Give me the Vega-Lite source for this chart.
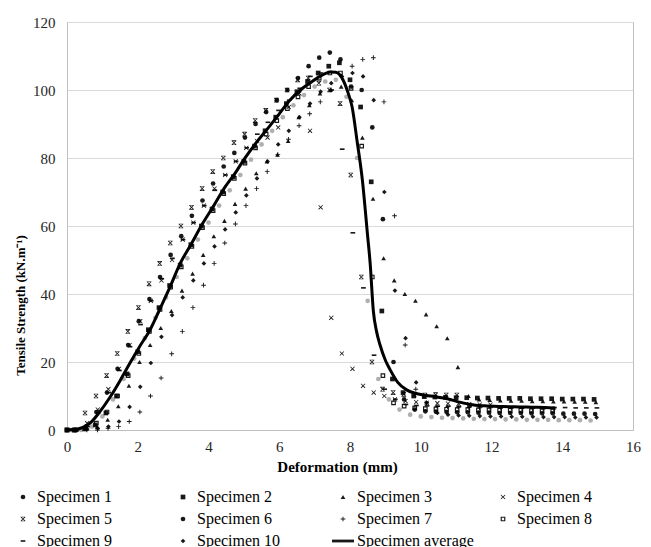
{
  "$schema": "https://vega.github.io/schema/vega-lite/v6.json",
  "width": 566,
  "height": 408,
  "autosize": {"type": "none"},
  "padding": {"left": 67, "top": 22, "right": 18, "bottom": 117},
  "background": "white",
  "config": {"view": {"stroke": "#bfbfbf", "strokeWidth": 1}, "font": "'Liberation Serif', 'Times New Roman', serif"},
  "layer": [
    {
      "data": {"values": [
        {"series":"Specimen 1","x":0.1,"y":0},{"series":"Specimen 1","x":0.4,"y":0},{"series":"Specimen 1","x":0.7,"y":1},{"series":"Specimen 1","x":1.0,"y":4},{"series":"Specimen 1","x":1.3,"y":9},{"series":"Specimen 1","x":1.6,"y":15},{"series":"Specimen 1","x":1.9,"y":21},{"series":"Specimen 1","x":2.2,"y":27},{"series":"Specimen 1","x":2.5,"y":33},{"series":"Specimen 1","x":2.8,"y":39},{"series":"Specimen 1","x":3.1,"y":45},{"series":"Specimen 1","x":3.4,"y":50.5},{"series":"Specimen 1","x":3.7,"y":56},{"series":"Specimen 1","x":4.0,"y":61},{"series":"Specimen 1","x":4.3,"y":66},{"series":"Specimen 1","x":4.6,"y":70.5},{"series":"Specimen 1","x":4.9,"y":75},{"series":"Specimen 1","x":5.2,"y":79.5},{"series":"Specimen 1","x":5.5,"y":84},{"series":"Specimen 1","x":5.8,"y":88},{"series":"Specimen 1","x":6.1,"y":92},{"series":"Specimen 1","x":6.4,"y":95.5},{"series":"Specimen 1","x":6.7,"y":98.5},{"series":"Specimen 1","x":7.0,"y":101},{"series":"Specimen 1","x":7.3,"y":102.5},{"series":"Specimen 1","x":7.6,"y":103},{"series":"Specimen 1","x":7.9,"y":98},{"series":"Specimen 1","x":8.2,"y":80},{"series":"Specimen 1","x":8.5,"y":38},{"series":"Specimen 1","x":8.8,"y":15},{"series":"Specimen 1","x":9.1,"y":9},{"series":"Specimen 1","x":9.4,"y":6},{"series":"Specimen 1","x":9.7,"y":4.5},{"series":"Specimen 1","x":10.0,"y":4},{"series":"Specimen 1","x":10.3,"y":3.8},{"series":"Specimen 1","x":10.6,"y":3.6},{"series":"Specimen 1","x":10.9,"y":3.5},{"series":"Specimen 1","x":11.2,"y":3.4},{"series":"Specimen 1","x":11.5,"y":3.3},{"series":"Specimen 1","x":11.8,"y":3.2},{"series":"Specimen 1","x":12.1,"y":3.2},{"series":"Specimen 1","x":12.4,"y":3.1},{"series":"Specimen 1","x":12.7,"y":3.1},{"series":"Specimen 1","x":13.0,"y":3.0},{"series":"Specimen 1","x":13.3,"y":3.0},{"series":"Specimen 1","x":13.6,"y":3.0},{"series":"Specimen 1","x":13.9,"y":2.9},{"series":"Specimen 1","x":14.2,"y":2.9},{"series":"Specimen 1","x":14.5,"y":2.9},{"series":"Specimen 1","x":14.8,"y":2.8},

        {"series":"Specimen 2","x":0.0,"y":0},{"series":"Specimen 2","x":0.2,"y":0},{"series":"Specimen 2","x":0.5,"y":0.3},{"series":"Specimen 2","x":0.8,"y":1.5},{"series":"Specimen 2","x":1.1,"y":5},{"series":"Specimen 2","x":1.4,"y":10},{"series":"Specimen 2","x":1.7,"y":16.5},{"series":"Specimen 2","x":2.0,"y":23},{"series":"Specimen 2","x":2.3,"y":29.5},{"series":"Specimen 2","x":2.6,"y":36},{"series":"Specimen 2","x":2.9,"y":42.5},{"series":"Specimen 2","x":3.2,"y":48.5},{"series":"Specimen 2","x":3.5,"y":54.5},{"series":"Specimen 2","x":3.8,"y":60},{"series":"Specimen 2","x":4.1,"y":65},{"series":"Specimen 2","x":4.4,"y":70},{"series":"Specimen 2","x":4.7,"y":74.5},{"series":"Specimen 2","x":5.0,"y":79},{"series":"Specimen 2","x":5.3,"y":83.5},{"series":"Specimen 2","x":5.6,"y":88},{"series":"Specimen 2","x":5.9,"y":92},{"series":"Specimen 2","x":6.2,"y":96},{"series":"Specimen 2","x":6.5,"y":99.5},{"series":"Specimen 2","x":6.8,"y":102.5},{"series":"Specimen 2","x":7.1,"y":105},{"series":"Specimen 2","x":7.4,"y":107},{"series":"Specimen 2","x":7.7,"y":108},{"series":"Specimen 2","x":8.0,"y":103},{"series":"Specimen 2","x":8.3,"y":95},{"series":"Specimen 2","x":8.6,"y":73},{"series":"Specimen 2","x":8.9,"y":35},{"series":"Specimen 2","x":9.2,"y":15},{"series":"Specimen 2","x":9.5,"y":11},{"series":"Specimen 2","x":9.8,"y":10},{"series":"Specimen 2","x":10.1,"y":9.8},{"series":"Specimen 2","x":10.4,"y":9.7},{"series":"Specimen 2","x":10.7,"y":9.6},{"series":"Specimen 2","x":11.0,"y":9.5},{"series":"Specimen 2","x":11.3,"y":9.5},{"series":"Specimen 2","x":11.6,"y":9.4},{"series":"Specimen 2","x":11.9,"y":9.4},{"series":"Specimen 2","x":12.2,"y":9.3},{"series":"Specimen 2","x":12.5,"y":9.3},{"series":"Specimen 2","x":12.8,"y":9.3},{"series":"Specimen 2","x":13.1,"y":9.2},{"series":"Specimen 2","x":13.4,"y":9.2},{"series":"Specimen 2","x":13.7,"y":9.2},{"series":"Specimen 2","x":14.0,"y":9.1},{"series":"Specimen 2","x":14.3,"y":9.1},{"series":"Specimen 2","x":14.6,"y":9.1},{"series":"Specimen 2","x":14.9,"y":9.0},

        {"series":"Specimen 3","x":0.25,"y":0},{"series":"Specimen 3","x":0.55,"y":0.5},{"series":"Specimen 3","x":0.85,"y":1},{"series":"Specimen 3","x":1.15,"y":3},{"series":"Specimen 3","x":1.45,"y":7},{"series":"Specimen 3","x":1.75,"y":13},{"series":"Specimen 3","x":2.05,"y":20},{"series":"Specimen 3","x":2.35,"y":25},{"series":"Specimen 3","x":2.65,"y":30},{"series":"Specimen 3","x":2.95,"y":35},{"series":"Specimen 3","x":3.25,"y":41},{"series":"Specimen 3","x":3.55,"y":46},{"series":"Specimen 3","x":3.85,"y":51.5},{"series":"Specimen 3","x":4.15,"y":57},{"series":"Specimen 3","x":4.45,"y":61.5},{"series":"Specimen 3","x":4.75,"y":66.5},{"series":"Specimen 3","x":5.05,"y":71},{"series":"Specimen 3","x":5.35,"y":75.5},{"series":"Specimen 3","x":5.65,"y":79},{"series":"Specimen 3","x":5.95,"y":81},{"series":"Specimen 3","x":6.25,"y":85},{"series":"Specimen 3","x":6.55,"y":92},{"series":"Specimen 3","x":6.85,"y":95.5},{"series":"Specimen 3","x":7.15,"y":99},{"series":"Specimen 3","x":7.45,"y":100},{"series":"Specimen 3","x":7.75,"y":101},{"series":"Specimen 3","x":8.05,"y":97},{"series":"Specimen 3","x":8.35,"y":86},{"series":"Specimen 3","x":8.65,"y":68},{"series":"Specimen 3","x":8.95,"y":50.5},{"series":"Specimen 3","x":9.25,"y":44},{"series":"Specimen 3","x":9.55,"y":40},{"series":"Specimen 3","x":9.85,"y":38},{"series":"Specimen 3","x":10.15,"y":34},{"series":"Specimen 3","x":10.45,"y":30.5},{"series":"Specimen 3","x":10.75,"y":27},{"series":"Specimen 3","x":11.05,"y":18.5},{"series":"Specimen 3","x":11.35,"y":10},{"series":"Specimen 3","x":11.65,"y":9},{"series":"Specimen 3","x":11.95,"y":8.8},{"series":"Specimen 3","x":12.25,"y":8.7},{"series":"Specimen 3","x":12.55,"y":8.6},{"series":"Specimen 3","x":12.85,"y":8.6},{"series":"Specimen 3","x":13.15,"y":8.5},{"series":"Specimen 3","x":13.45,"y":8.5},{"series":"Specimen 3","x":13.75,"y":8.4},{"series":"Specimen 3","x":14.05,"y":8.4},{"series":"Specimen 3","x":14.35,"y":8.3},{"series":"Specimen 3","x":14.65,"y":8.3},{"series":"Specimen 3","x":14.95,"y":8.2},

        {"series":"Specimen 4","x":0.27,"y":0},{"series":"Specimen 4","x":0.57,"y":2},{"series":"Specimen 4","x":0.87,"y":6},{"series":"Specimen 4","x":1.17,"y":12},{"series":"Specimen 4","x":1.47,"y":18},{"series":"Specimen 4","x":1.77,"y":25},{"series":"Specimen 4","x":2.07,"y":32},{"series":"Specimen 4","x":2.37,"y":38},{"series":"Specimen 4","x":2.67,"y":44},{"series":"Specimen 4","x":2.97,"y":50},{"series":"Specimen 4","x":3.27,"y":56},{"series":"Specimen 4","x":3.57,"y":61},{"series":"Specimen 4","x":3.87,"y":66},{"series":"Specimen 4","x":4.17,"y":71},{"series":"Specimen 4","x":4.47,"y":75},{"series":"Specimen 4","x":4.77,"y":79},{"series":"Specimen 4","x":5.07,"y":83},{"series":"Specimen 4","x":5.37,"y":85},{"series":"Specimen 4","x":5.67,"y":86},{"series":"Specimen 4","x":5.97,"y":89},{"series":"Specimen 4","x":6.27,"y":95},{"series":"Specimen 4","x":6.57,"y":99},{"series":"Specimen 4","x":6.87,"y":88},{"series":"Specimen 4","x":7.17,"y":65.5},{"series":"Specimen 4","x":7.47,"y":33},{"series":"Specimen 4","x":7.77,"y":22.5},{"series":"Specimen 4","x":8.07,"y":18},{"series":"Specimen 4","x":8.37,"y":13},{"series":"Specimen 4","x":8.67,"y":11},{"series":"Specimen 4","x":8.97,"y":10},{"series":"Specimen 4","x":9.27,"y":9},{"series":"Specimen 4","x":9.57,"y":8.5},{"series":"Specimen 4","x":9.87,"y":8.2},{"series":"Specimen 4","x":10.17,"y":8},{"series":"Specimen 4","x":10.47,"y":7.9},{"series":"Specimen 4","x":10.77,"y":7.8},{"series":"Specimen 4","x":11.07,"y":7.7},{"series":"Specimen 4","x":11.37,"y":7.6},{"series":"Specimen 4","x":11.67,"y":7.5},{"series":"Specimen 4","x":11.97,"y":7.5},

        {"series":"Specimen 5","x":0.0,"y":0},{"series":"Specimen 5","x":0.21,"y":0},{"series":"Specimen 5","x":0.51,"y":5},{"series":"Specimen 5","x":0.82,"y":10},{"series":"Specimen 5","x":1.12,"y":16},{"series":"Specimen 5","x":1.42,"y":22.5},{"series":"Specimen 5","x":1.72,"y":29},{"series":"Specimen 5","x":2.02,"y":36},{"series":"Specimen 5","x":2.32,"y":43},{"series":"Specimen 5","x":2.62,"y":49},{"series":"Specimen 5","x":2.92,"y":55},{"series":"Specimen 5","x":3.22,"y":60},{"series":"Specimen 5","x":3.52,"y":65.5},{"series":"Specimen 5","x":3.82,"y":71},{"series":"Specimen 5","x":4.12,"y":76},{"series":"Specimen 5","x":4.42,"y":80},{"series":"Specimen 5","x":4.72,"y":84.5},{"series":"Specimen 5","x":5.02,"y":87},{"series":"Specimen 5","x":5.32,"y":91},{"series":"Specimen 5","x":5.62,"y":94},{"series":"Specimen 5","x":5.92,"y":97},{"series":"Specimen 5","x":6.22,"y":100},{"series":"Specimen 5","x":6.52,"y":103},{"series":"Specimen 5","x":6.82,"y":103.5},{"series":"Specimen 5","x":7.12,"y":102},{"series":"Specimen 5","x":7.42,"y":100},{"series":"Specimen 5","x":7.72,"y":96},{"series":"Specimen 5","x":8.02,"y":75},{"series":"Specimen 5","x":8.32,"y":45},{"series":"Specimen 5","x":8.62,"y":20},{"series":"Specimen 5","x":8.92,"y":12},{"series":"Specimen 5","x":9.22,"y":11},{"series":"Specimen 5","x":9.52,"y":10.5},{"series":"Specimen 5","x":9.82,"y":10.3},{"series":"Specimen 5","x":10.12,"y":10.3},{"series":"Specimen 5","x":10.42,"y":10.4},{"series":"Specimen 5","x":10.72,"y":10.3},{"series":"Specimen 5","x":11.02,"y":10.3},

        {"series":"Specimen 6","x":0.0,"y":0},{"series":"Specimen 6","x":0.23,"y":0},{"series":"Specimen 6","x":0.53,"y":1},{"series":"Specimen 6","x":0.83,"y":5.3},{"series":"Specimen 6","x":1.13,"y":11},{"series":"Specimen 6","x":1.43,"y":18},{"series":"Specimen 6","x":1.73,"y":25},{"series":"Specimen 6","x":2.03,"y":32},{"series":"Specimen 6","x":2.33,"y":38.5},{"series":"Specimen 6","x":2.63,"y":45},{"series":"Specimen 6","x":2.93,"y":51.5},{"series":"Specimen 6","x":3.23,"y":57},{"series":"Specimen 6","x":3.53,"y":63},{"series":"Specimen 6","x":3.83,"y":67.5},{"series":"Specimen 6","x":4.13,"y":72.5},{"series":"Specimen 6","x":4.43,"y":77.5},{"series":"Specimen 6","x":4.73,"y":81.5},{"series":"Specimen 6","x":5.03,"y":86},{"series":"Specimen 6","x":5.33,"y":90},{"series":"Specimen 6","x":5.63,"y":93.5},{"series":"Specimen 6","x":5.93,"y":97},{"series":"Specimen 6","x":6.23,"y":100},{"series":"Specimen 6","x":6.53,"y":103.5},{"series":"Specimen 6","x":6.83,"y":107},{"series":"Specimen 6","x":7.13,"y":109.5},{"series":"Specimen 6","x":7.43,"y":111},{"series":"Specimen 6","x":7.73,"y":109},{"series":"Specimen 6","x":8.03,"y":101},{"series":"Specimen 6","x":8.33,"y":100},{"series":"Specimen 6","x":8.63,"y":89},{"series":"Specimen 6","x":8.93,"y":62},{"series":"Specimen 6","x":9.23,"y":20},{"series":"Specimen 6","x":9.53,"y":9},{"series":"Specimen 6","x":9.83,"y":6},{"series":"Specimen 6","x":10.13,"y":5.5},{"series":"Specimen 6","x":10.43,"y":5.4},{"series":"Specimen 6","x":10.73,"y":5.3},{"series":"Specimen 6","x":11.03,"y":5.2},{"series":"Specimen 6","x":11.33,"y":5.2},{"series":"Specimen 6","x":11.63,"y":5.1},{"series":"Specimen 6","x":11.93,"y":5.1},{"series":"Specimen 6","x":12.23,"y":5.0},{"series":"Specimen 6","x":12.53,"y":5.0},{"series":"Specimen 6","x":12.83,"y":5.0},{"series":"Specimen 6","x":13.13,"y":4.9},{"series":"Specimen 6","x":13.43,"y":4.9},{"series":"Specimen 6","x":13.73,"y":4.9},{"series":"Specimen 6","x":14.03,"y":4.8},{"series":"Specimen 6","x":14.33,"y":4.8},{"series":"Specimen 6","x":14.63,"y":4.8},{"series":"Specimen 6","x":14.93,"y":4.7},

        {"series":"Specimen 7","x":0.26,"y":0},{"series":"Specimen 7","x":0.56,"y":0},{"series":"Specimen 7","x":0.86,"y":0},{"series":"Specimen 7","x":1.16,"y":0.5},{"series":"Specimen 7","x":1.46,"y":1},{"series":"Specimen 7","x":1.76,"y":2.5},{"series":"Specimen 7","x":2.06,"y":5.3},{"series":"Specimen 7","x":2.36,"y":10},{"series":"Specimen 7","x":2.66,"y":15.3},{"series":"Specimen 7","x":2.96,"y":22.4},{"series":"Specimen 7","x":3.26,"y":29},{"series":"Specimen 7","x":3.56,"y":36},{"series":"Specimen 7","x":3.86,"y":42.6},{"series":"Specimen 7","x":4.16,"y":49},{"series":"Specimen 7","x":4.46,"y":55},{"series":"Specimen 7","x":4.76,"y":60.6},{"series":"Specimen 7","x":5.06,"y":66},{"series":"Specimen 7","x":5.36,"y":71},{"series":"Specimen 7","x":5.66,"y":76},{"series":"Specimen 7","x":5.96,"y":81},{"series":"Specimen 7","x":6.26,"y":85.5},{"series":"Specimen 7","x":6.56,"y":89.5},{"series":"Specimen 7","x":6.86,"y":93},{"series":"Specimen 7","x":7.16,"y":96.5},{"series":"Specimen 7","x":7.46,"y":100},{"series":"Specimen 7","x":7.76,"y":104},{"series":"Specimen 7","x":8.06,"y":107},{"series":"Specimen 7","x":8.36,"y":109},{"series":"Specimen 7","x":8.66,"y":109.5},{"series":"Specimen 7","x":8.96,"y":96.5},{"series":"Specimen 7","x":9.26,"y":63},{"series":"Specimen 7","x":9.56,"y":25},{"series":"Specimen 7","x":9.86,"y":12},{"series":"Specimen 7","x":10.16,"y":8},{"series":"Specimen 7","x":10.46,"y":7},{"series":"Specimen 7","x":10.76,"y":6.8},{"series":"Specimen 7","x":11.06,"y":6.7},{"series":"Specimen 7","x":11.36,"y":6.6},{"series":"Specimen 7","x":11.66,"y":6.5},{"series":"Specimen 7","x":11.96,"y":6.5},{"series":"Specimen 7","x":12.26,"y":6.4},{"series":"Specimen 7","x":12.56,"y":6.4},{"series":"Specimen 7","x":12.86,"y":6.3},{"series":"Specimen 7","x":13.16,"y":6.3},{"series":"Specimen 7","x":13.46,"y":6.2},{"series":"Specimen 7","x":13.76,"y":6.2},

        {"series":"Specimen 8","x":0.0,"y":0},{"series":"Specimen 8","x":0.23,"y":0},{"series":"Specimen 8","x":0.53,"y":0.5},{"series":"Specimen 8","x":0.83,"y":2},{"series":"Specimen 8","x":1.13,"y":5.3},{"series":"Specimen 8","x":1.43,"y":10},{"series":"Specimen 8","x":1.73,"y":16},{"series":"Specimen 8","x":2.03,"y":22.5},{"series":"Specimen 8","x":2.33,"y":29},{"series":"Specimen 8","x":2.63,"y":35.5},{"series":"Specimen 8","x":2.93,"y":42},{"series":"Specimen 8","x":3.23,"y":48},{"series":"Specimen 8","x":3.53,"y":54},{"series":"Specimen 8","x":3.83,"y":59.5},{"series":"Specimen 8","x":4.13,"y":64.5},{"series":"Specimen 8","x":4.43,"y":69.5},{"series":"Specimen 8","x":4.73,"y":74},{"series":"Specimen 8","x":5.03,"y":78.5},{"series":"Specimen 8","x":5.33,"y":83},{"series":"Specimen 8","x":5.63,"y":87},{"series":"Specimen 8","x":5.93,"y":91},{"series":"Specimen 8","x":6.23,"y":94.5},{"series":"Specimen 8","x":6.53,"y":98},{"series":"Specimen 8","x":6.83,"y":101},{"series":"Specimen 8","x":7.13,"y":103.5},{"series":"Specimen 8","x":7.43,"y":105},{"series":"Specimen 8","x":7.73,"y":105},{"series":"Specimen 8","x":8.03,"y":100.5},{"series":"Specimen 8","x":8.33,"y":83.5},{"series":"Specimen 8","x":8.63,"y":45},{"series":"Specimen 8","x":8.93,"y":16},{"series":"Specimen 8","x":9.23,"y":8},{"series":"Specimen 8","x":9.53,"y":7},{"series":"Specimen 8","x":9.83,"y":6.5},{"series":"Specimen 8","x":10.13,"y":6.3},{"series":"Specimen 8","x":10.43,"y":6.2},{"series":"Specimen 8","x":10.73,"y":6.1},{"series":"Specimen 8","x":11.03,"y":6.0},{"series":"Specimen 8","x":11.33,"y":6.0},{"series":"Specimen 8","x":11.63,"y":5.9},{"series":"Specimen 8","x":11.93,"y":5.9},{"series":"Specimen 8","x":12.23,"y":5.8},{"series":"Specimen 8","x":12.53,"y":5.8},{"series":"Specimen 8","x":12.83,"y":5.8},{"series":"Specimen 8","x":13.13,"y":5.7},{"series":"Specimen 8","x":13.43,"y":5.7},{"series":"Specimen 8","x":13.73,"y":5.7},

        {"series":"Specimen 9","x":0.28,"y":0},{"series":"Specimen 9","x":0.58,"y":1},{"series":"Specimen 9","x":0.88,"y":5},{"series":"Specimen 9","x":1.18,"y":11},{"series":"Specimen 9","x":1.48,"y":17.5},{"series":"Specimen 9","x":1.78,"y":24.5},{"series":"Specimen 9","x":2.08,"y":31},{"series":"Specimen 9","x":2.38,"y":38},{"series":"Specimen 9","x":2.68,"y":44.5},{"series":"Specimen 9","x":2.98,"y":50.5},{"series":"Specimen 9","x":3.28,"y":56},{"series":"Specimen 9","x":3.58,"y":61},{"series":"Specimen 9","x":3.88,"y":66},{"series":"Specimen 9","x":4.18,"y":70.5},{"series":"Specimen 9","x":4.48,"y":75},{"series":"Specimen 9","x":4.78,"y":79},{"series":"Specimen 9","x":5.08,"y":83},{"series":"Specimen 9","x":5.38,"y":87},{"series":"Specimen 9","x":5.68,"y":90.5},{"series":"Specimen 9","x":5.98,"y":94},{"series":"Specimen 9","x":6.28,"y":97},{"series":"Specimen 9","x":6.58,"y":100.5},{"series":"Specimen 9","x":6.88,"y":104},{"series":"Specimen 9","x":7.18,"y":105},{"series":"Specimen 9","x":7.48,"y":100},{"series":"Specimen 9","x":7.78,"y":82.6},{"series":"Specimen 9","x":8.08,"y":58},{"series":"Specimen 9","x":8.38,"y":41.8},{"series":"Specimen 9","x":8.68,"y":22},{"series":"Specimen 9","x":8.98,"y":12},{"series":"Specimen 9","x":9.28,"y":9},{"series":"Specimen 9","x":9.58,"y":7.5},{"series":"Specimen 9","x":9.88,"y":7.2},{"series":"Specimen 9","x":10.18,"y":7.1},{"series":"Specimen 9","x":10.48,"y":7.0},{"series":"Specimen 9","x":10.78,"y":7.0},{"series":"Specimen 9","x":11.08,"y":6.9},{"series":"Specimen 9","x":11.38,"y":6.9},{"series":"Specimen 9","x":11.68,"y":6.8},{"series":"Specimen 9","x":11.98,"y":6.8},{"series":"Specimen 9","x":12.28,"y":6.8},{"series":"Specimen 9","x":12.58,"y":6.7},{"series":"Specimen 9","x":12.88,"y":6.7},{"series":"Specimen 9","x":13.18,"y":6.7},{"series":"Specimen 9","x":13.48,"y":6.6},{"series":"Specimen 9","x":13.78,"y":6.6},{"series":"Specimen 9","x":14.08,"y":6.6},{"series":"Specimen 9","x":14.38,"y":6.5},{"series":"Specimen 9","x":14.68,"y":6.5},{"series":"Specimen 9","x":14.98,"y":6.5},

        {"series":"Specimen 10","x":0.27,"y":0},{"series":"Specimen 10","x":0.57,"y":0.3},{"series":"Specimen 10","x":0.87,"y":0.5},{"series":"Specimen 10","x":1.17,"y":1},{"series":"Specimen 10","x":1.47,"y":2.5},{"series":"Specimen 10","x":1.77,"y":6.8},{"series":"Specimen 10","x":2.07,"y":12.7},{"series":"Specimen 10","x":2.37,"y":19.7},{"series":"Specimen 10","x":2.67,"y":27.4},{"series":"Specimen 10","x":2.97,"y":33.8},{"series":"Specimen 10","x":3.27,"y":39},{"series":"Specimen 10","x":3.57,"y":44},{"series":"Specimen 10","x":3.87,"y":49},{"series":"Specimen 10","x":4.17,"y":54},{"series":"Specimen 10","x":4.47,"y":59},{"series":"Specimen 10","x":4.77,"y":64},{"series":"Specimen 10","x":5.07,"y":69},{"series":"Specimen 10","x":5.37,"y":74},{"series":"Specimen 10","x":5.67,"y":79},{"series":"Specimen 10","x":5.97,"y":84},{"series":"Specimen 10","x":6.27,"y":88},{"series":"Specimen 10","x":6.57,"y":92},{"series":"Specimen 10","x":6.87,"y":96},{"series":"Specimen 10","x":7.17,"y":99.5},{"series":"Specimen 10","x":7.47,"y":102},{"series":"Specimen 10","x":7.77,"y":104},{"series":"Specimen 10","x":8.07,"y":105},{"series":"Specimen 10","x":8.37,"y":104},{"series":"Specimen 10","x":8.67,"y":97},{"series":"Specimen 10","x":8.97,"y":70},{"series":"Specimen 10","x":9.27,"y":41},{"series":"Specimen 10","x":9.57,"y":27},{"series":"Specimen 10","x":9.87,"y":14},{"series":"Specimen 10","x":10.17,"y":8},{"series":"Specimen 10","x":10.47,"y":5},{"series":"Specimen 10","x":10.77,"y":4.5},{"series":"Specimen 10","x":11.07,"y":4.3},{"series":"Specimen 10","x":11.37,"y":4.2},{"series":"Specimen 10","x":11.67,"y":4.1},{"series":"Specimen 10","x":11.97,"y":4.0},{"series":"Specimen 10","x":12.27,"y":4.0},{"series":"Specimen 10","x":12.57,"y":3.9},{"series":"Specimen 10","x":12.87,"y":3.9},{"series":"Specimen 10","x":13.17,"y":3.9},{"series":"Specimen 10","x":13.47,"y":3.8},{"series":"Specimen 10","x":13.77,"y":3.8},{"series":"Specimen 10","x":14.07,"y":3.8},{"series":"Specimen 10","x":14.37,"y":3.7},{"series":"Specimen 10","x":14.67,"y":3.7},{"series":"Specimen 10","x":14.97,"y":3.7}
      ]},
      "mark": {"type": "point", "filled": true, "opacity": 0.9, "size": 22},
      "encoding": {
        "x": {
          "field": "x", "type": "quantitative",
          "scale": {"domain": [0, 16], "nice": false, "zero": true},
          "axis": {
            "values": [0, 2, 4, 6, 8, 10, 12, 14, 16],
            "grid": false, "ticks": false, "labelFlush": false,
            "domainColor": "#bfbfbf",
            "labelFont": "'Liberation Serif', 'Times New Roman', serif", "labelFontSize": 15, "labelColor": "#262626", "labelPadding": 9,
            "title": "Deformation (mm)",
            "titleFont": "'Liberation Serif', 'Times New Roman', serif", "titleFontSize": 15, "titleFontWeight": "bold", "titleColor": "black",
            "titleX": 270, "titleY": 36, "titleBaseline": "middle", "titleAlign": "center"
          }
        },
        "y": {
          "field": "y", "type": "quantitative",
          "scale": {"domain": [0, 120], "nice": false},
          "axis": {
            "values": [0, 20, 40, 60, 80, 100, 120],
            "grid": true, "gridColor": "#d9d9d9", "ticks": false, "labelFlush": false,
            "domainColor": "#bfbfbf",
            "labelFont": "'Liberation Serif', 'Times New Roman', serif", "labelFontSize": 15, "labelColor": "#262626", "labelPadding": 12,
            "title": "Tensile Strength (kN.m⁻¹)",
            "titleFont": "'Liberation Serif', 'Times New Roman', serif", "titleFontSize": 13, "titleFontWeight": "bold", "titleColor": "black",
            "titleX": -47, "titleY": 283, "titleAngle": 270, "titleBaseline": "middle", "titleAlign": "center"
          }
        },
        "shape": {
          "field": "series", "type": "nominal",
          "scale": {
            "domain": ["Specimen 1", "Specimen 2", "Specimen 3", "Specimen 4", "Specimen 5", "Specimen 6", "Specimen 7", "Specimen 8", "Specimen 9", "Specimen 10", "Specimen average"],
            "range": [
              "circle",
              "square",
              "triangle-up",
              "M-1,-0.75L-0.75,-1L0,-0.25L0.75,-1L1,-0.75L0.25,0L1,0.75L0.75,1L0,0.25L-0.75,1L-1,0.75L-0.25,0Z",
              "M-1,-0.75L-0.75,-1L0,-0.25L0.75,-1L1,-0.75L0.25,0L1,0.75L0.75,1L0,0.25L-0.75,1L-1,0.75L-0.25,0Z M-1,-1H1V-0.75H-1Z M-1,0.75H1V1H-1Z",
              "circle",
              "M-0.2,-1H0.2V-0.2H1V0.2H0.2V1H-0.2V0.2H-1V-0.2H-0.2Z",
              "M-1,-1H1V1H-1Z M-0.5,-0.5V0.5H0.5V-0.5Z",
              "M-1,-0.35H1V0.35H-1Z",
              "diamond",
              "M-4.7,-0.6H4.7V0.6H-4.7Z"
            ]
          },
          "legend": {
            "title": null,
            "orient": "none",
            "direction": "horizontal",
            "legendX": -52,
            "legendY": 467,
            "columns": 4,
            "gridAlign": "all",
            "padding": 0,
            "columnPadding": 17,
            "rowPadding": 6,
            "symbolStrokeWidth": 0,
            "symbolSize": 22,
            "labelFont": "'Liberation Serif', 'Times New Roman', serif",
            "labelFontSize": 16,
            "labelColor": "black",
            "labelOffset": 6,
            "labelLimit": 300,
            "encode": {
              "symbols": {
                "update": {
                  "fill": {"signal": "datum.value === 'Specimen 1' ? '#8c8c8c' : 'black'"},
                  "opacity": {"value": 1}
                }
              }
            }
          }
        },
        "color": {
          "condition": {"test": "datum.series === 'Specimen 1'", "value": "#a6a6a6"},
          "value": "black"
        }
      }
    },
    {
      "data": {"values": [
        {"x":0,"y":0},{"x":0.3,"y":0.3},{"x":0.5,"y":1},{"x":0.65,"y":2},{"x":0.9,"y":5},{"x":1.22,"y":9.7},{"x":1.5,"y":14.5},{"x":1.78,"y":19.7},{"x":2.05,"y":24.5},{"x":2.35,"y":29.5},{"x":2.6,"y":35},{"x":2.91,"y":42},{"x":3.2,"y":49},{"x":3.5,"y":54.5},{"x":3.85,"y":61},{"x":4.15,"y":66},{"x":4.47,"y":71.5},{"x":4.75,"y":75.5},{"x":5.0,"y":79.5},{"x":5.35,"y":84.5},{"x":5.7,"y":89},{"x":6.0,"y":93},{"x":6.3,"y":97},{"x":6.6,"y":100},{"x":6.9,"y":102.3},{"x":7.2,"y":104.3},{"x":7.45,"y":105.3},{"x":7.6,"y":105.2},{"x":7.8,"y":103},{"x":7.95,"y":99},{"x":8.06,"y":95},{"x":8.2,"y":85},{"x":8.35,"y":73.5},{"x":8.49,"y":58},{"x":8.57,"y":49},{"x":8.66,"y":35},{"x":8.75,"y":29},{"x":8.85,"y":25},{"x":9.0,"y":20.5},{"x":9.14,"y":17.6},{"x":9.35,"y":14},{"x":9.6,"y":11.8},{"x":9.85,"y":10.8},{"x":10.07,"y":10.3},{"x":10.4,"y":9.8},{"x":10.75,"y":9.2},{"x":11.1,"y":8.2},{"x":11.4,"y":7.5},{"x":11.8,"y":7.1},{"x":12.3,"y":6.9},{"x":12.8,"y":6.8},{"x":13.3,"y":6.7},{"x":13.8,"y":6.5}
      ]},
      "mark": {"type": "line", "color": "black", "strokeWidth": 3, "interpolate": "monotone"},
      "encoding": {
        "x": {"field": "x", "type": "quantitative"},
        "y": {"field": "y", "type": "quantitative"}
      }
    }
  ]
}
